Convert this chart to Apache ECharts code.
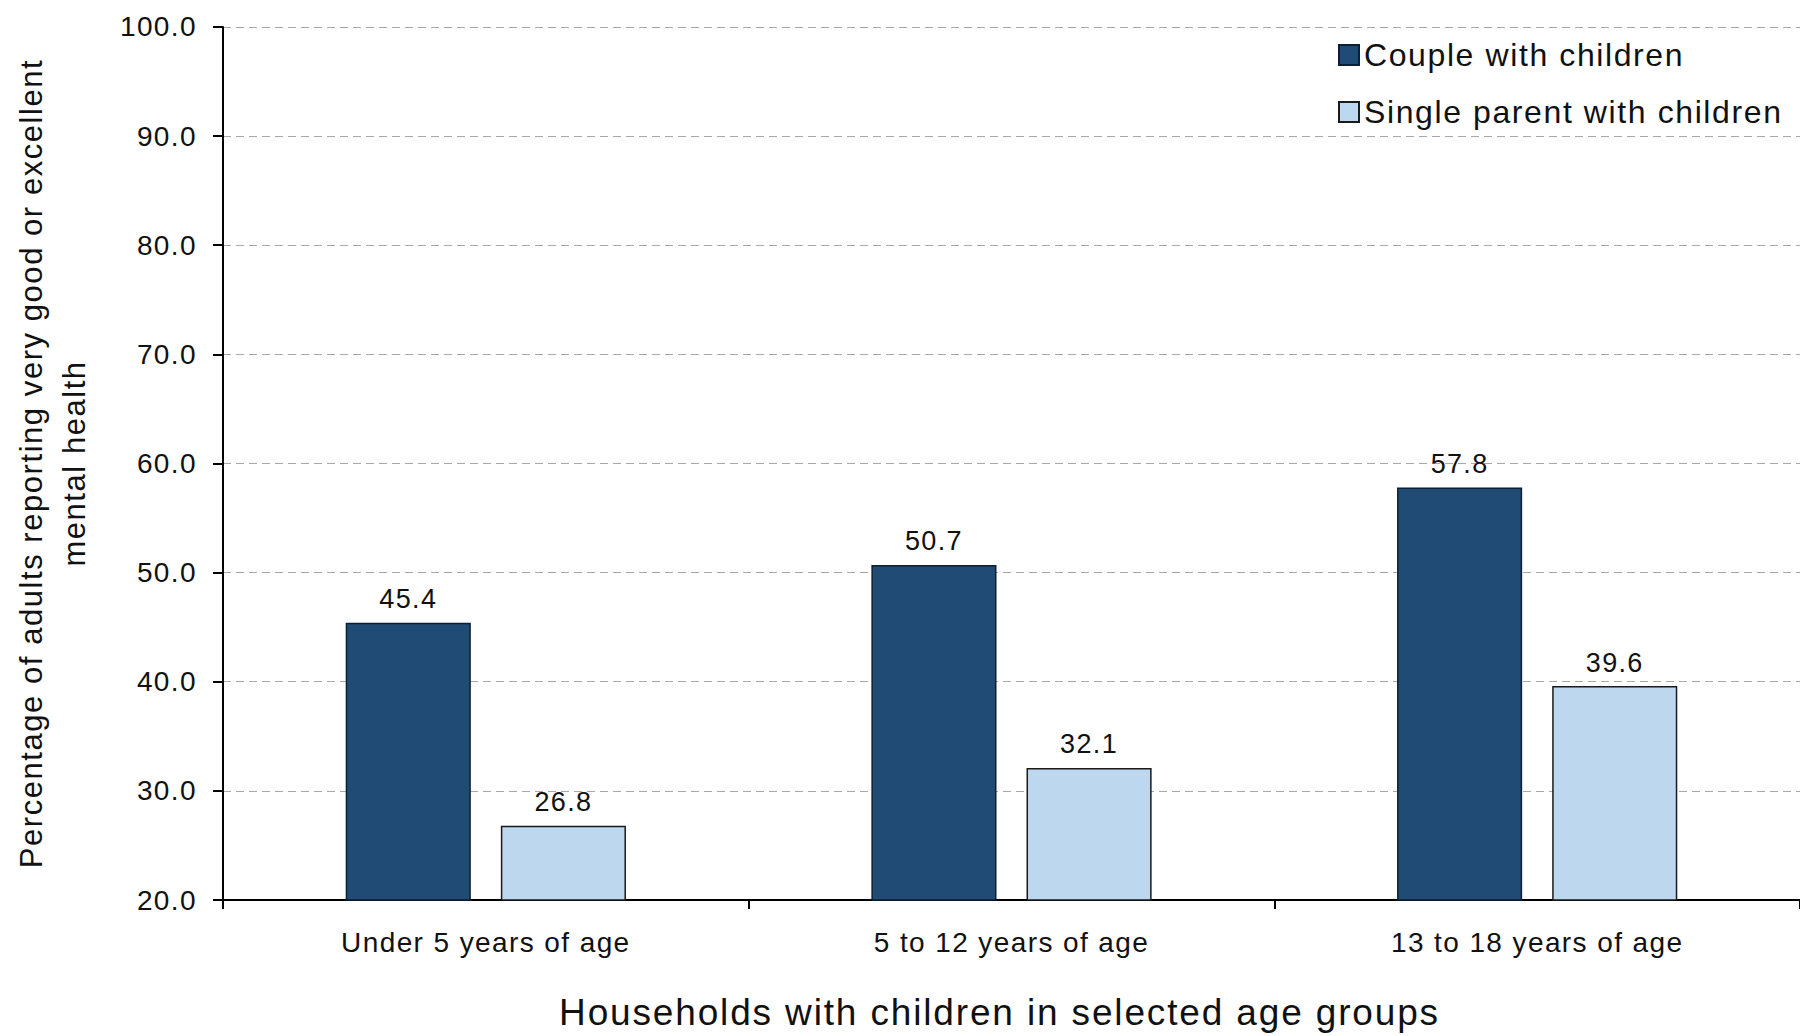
<!DOCTYPE html>
<html><head><meta charset="utf-8">
<script src="https://cdn.jsdelivr.net/npm/echarts@6/dist/echarts.min.js"></script>
<style>html,body{margin:0;padding:0;background:#fff;overflow:hidden;width:100%;height:100%}
#c{width:100vw;height:100vh;overflow:hidden}
#c svg{display:block}
#c svg text{letter-spacing:0.05em}</style>
</head><body><div id="c"></div>
<script>
const categories = ["Under 5 years of age", "5 to 12 years of age", "13 to 18 years of age"];
const coupleValues = [45.4, 50.7, 57.8];
const singleValues = [26.8, 32.1, 39.6];
const seriesNames = ["Couple with children", "Single parent with children"];
const yAxisTitle = "Percentage of adults reporting very good or excellent\nmental health";
const xAxisTitle = "Households with children in selected age groups";

const FONT = "Liberation Sans, Arial, sans-serif";
const chart = echarts.init(document.getElementById('c'), null, { renderer: 'svg' });
chart.setOption({
  animation: false,
  textStyle: { fontFamily: FONT },
  grid: { left: 223, right: 0, top: '2.6%', bottom: '12.16%', containLabel: false },
  legend: {
    orient: 'vertical', left: 1333, top: 34,
    itemWidth: 20, itemHeight: 20, itemGap: 25,
    textStyle: { fontSize: 32, color: '#111', fontFamily: FONT, padding: 0 },
    data: seriesNames.map(n => ({ name: n, icon: 'rect' }))
  },
  xAxis: {
    type: 'category', data: categories,
    axisLine: { lineStyle: { color: '#000', width: 2 } },
    axisTick: { show: true, length: 9, lineStyle: { color: '#000', width: 2 } },
    axisLabel: { fontSize: 28, color: '#111', margin: 28, fontFamily: FONT },
    name: xAxisTitle, nameLocation: 'middle', nameGap: 94,
    nameTextStyle: { fontSize: 37, color: '#111', fontFamily: FONT, padding: [0, 24, 0, 0] }
  },
  yAxis: {
    type: 'value', min: 20, max: 100, interval: 10,
    axisLine: { show: true, lineStyle: { color: '#000', width: 2 } },
    axisTick: { show: true, length: 10, lineStyle: { color: '#000', width: 2 } },
    axisLabel: { fontSize: 28, color: '#111', margin: 26, formatter: v => v.toFixed(1), fontFamily: FONT },
    splitLine: { show: true, lineStyle: { color: '#a8a8a8', type: [8, 5], width: 1 } },
    name: yAxisTitle, nameLocation: 'middle', nameGap: 127, nameRotate: 90,
    nameTextStyle: { fontSize: 31, color: '#111', lineHeight: 43, align: 'center', fontFamily: FONT }
  },
  series: [
    { name: seriesNames[0], type: 'bar', data: coupleValues, barWidth: '23.8%', barGap: '24%',
      itemStyle: { color: '#1F4B75', borderColor: '#0d1f33', borderWidth: 1.5 },
      label: { show: true, position: 'top', distance: 10, fontSize: 27, color: '#111', formatter: p => p.value.toFixed(1), fontFamily: FONT } },
    { name: seriesNames[1], type: 'bar', data: singleValues, barWidth: '23.8%', barGap: '24%',
      itemStyle: { color: '#BDD7EE', borderColor: '#1a1a1a', borderWidth: 1.5 },
      label: { show: true, position: 'top', distance: 10, fontSize: 27, color: '#111', formatter: p => p.value.toFixed(1), fontFamily: FONT } }
  ]
});
window.addEventListener('resize', () => chart.resize());
</script></body></html>
